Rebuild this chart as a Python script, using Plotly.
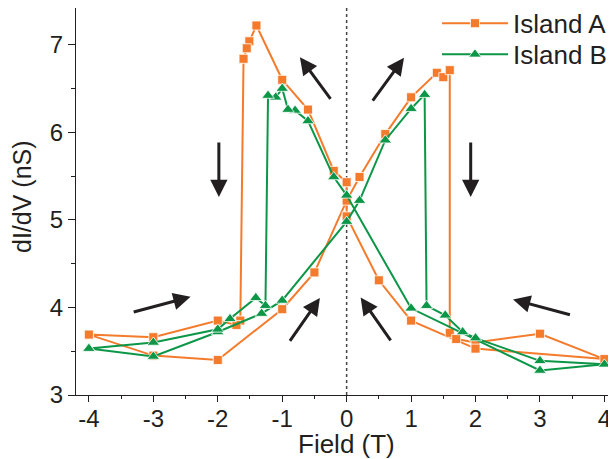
import plotly.graph_objects as go

# Island A (orange squares) - field sweep path
field_a = [-4, -3, -2, -1, -0.5, 0, 0.2, 0.6, 1.0, 1.4, 1.5, 1.6, 1.6, 1.7, 2.0, 3.0, 4.0,
           2.0, 1.0, 0.5, 0, 0, -0.2, -0.6, -1.0, -1.4, -1.51, -1.55, -1.6, -1.65, -1.71, -2, -3, -4]
didv_a = [3.69, 3.45, 3.40, 3.98, 4.40, 5.22, 5.49, 5.98, 6.40, 6.68, 6.63, 6.71, 3.71, 3.64, 3.60, 3.70, 3.41,
          3.53, 3.85, 4.31, 5.04, 5.43, 5.56, 6.26, 6.60, 7.22, 7.04, 6.96, 6.84, 3.85, 3.80, 3.85, 3.66, 3.69]

# Island B (green triangles)
field_b = [-4, -3, -2, -1.32, -1.0, 0, 0.2, 0.6, 1.0, 1.21, 1.24, 1.53, 1.80, 2.0, 3.0, 4.0,
           3.0, 1.0, 0, -0.2, -0.6, -0.8, -0.91, -1.0, -1.1, -1.22, -1.26, -1.41, -1.81, -2, -3, -4]
didv_b = [3.53, 3.44, 3.72, 3.93, 4.08, 4.98, 5.22, 5.91, 6.27, 6.43, 4.02, 3.91, 3.72, 3.65, 3.39, 3.35,
          3.28, 3.99, 5.28, 5.49, 6.13, 6.25, 6.26, 6.50, 6.40, 6.42, 4.02, 4.11, 3.87, 3.75, 3.60, 3.53]

x_ticks = [-4, -3, -2, -1, 0, 1, 2, 3, 4]
x_tick_text = ["-4", "-3", "-2", "-1", "0", "1", "2", "3", "4"]
y_ticks = [3, 4, 5, 6, 7]

# sweep-direction arrows: (tail_x, tail_y, head_x, head_y)
arrows = [
    (-0.233, 6.364, -0.725, 6.857),
    (-1.983, 5.900, -1.983, 5.261),
    (0.388, 6.344, 0.890, 6.851),
    (1.925, 5.900, 1.925, 5.261),
    (-3.328, 3.943, -2.422, 4.121),
    (-0.896, 3.601, -0.415, 4.109),
    (0.699, 3.608, 0.217, 4.114),
    (3.489, 3.912, 2.582, 4.091),
]

ORANGE = "#F47B2B"
GREEN = "#0C9647"
INK = "#231F20"
FONT = "Liberation Sans, Arial, sans-serif"

fig = go.Figure()
fig.add_trace(go.Scatter(
    x=field_a, y=didv_a, mode="lines+markers", name="Island A", legend="legend",
    line=dict(color=ORANGE, width=2),
    marker=dict(symbol="square", size=9, color=ORANGE, line=dict(color="white", width=0.8)),
))
fig.add_trace(go.Scatter(
    x=field_b, y=didv_b, mode="lines+markers", name="Island B", legend="legend2",
    line=dict(color=GREEN, width=2),
    marker=dict(symbol="triangle-up", size=11, color=GREEN, line=dict(color="white", width=0.8)),
))

fig.add_shape(type="line", xref="x", yref="y", x0=0, x1=0, y0=3, y1=7.42,
              line=dict(color="#444444", width=1.5, dash="dot"), layer="below")

for tx, ty, hx, hy in arrows:
    fig.add_annotation(x=hx, y=hy, ax=tx, ay=ty, xref="x", yref="y", axref="x", ayref="y",
                       text="", showarrow=True, arrowhead=2, arrowsize=1.15, arrowwidth=3,
                       arrowcolor=INK)

# axis titles
fig.add_annotation(text="Field (T)", xref="paper", yref="paper", x=0.5, y=-0.126,
                   xanchor="center", yanchor="middle", showarrow=False,
                   font=dict(size=26, family=FONT, color=INK))
fig.add_annotation(text="dI/dV (nS)", xref="paper", yref="paper", x=-0.099, y=0.513,
                   xanchor="center", yanchor="middle", showarrow=False, textangle=-90,
                   font=dict(size=25, family=FONT, color=INK))

legend_common = dict(xanchor="left", yanchor="middle", bgcolor="rgba(0,0,0,0)",
                     font=dict(size=26, family=FONT, color=INK), itemwidth=66)

fig.update_layout(
    width=608, height=451,
    margin=dict(l=68, r=0, t=0, b=64, autoexpand=False),
    paper_bgcolor="white", plot_bgcolor="white",
    font=dict(family=FONT, color=INK, size=24),
    showlegend=True,
    legend=dict(x=0.6685, y=0.9605, **legend_common),
    legend2=dict(x=0.6685, y=0.880, **legend_common),
    xaxis=dict(range=[-4.2, 4.18], tickvals=x_ticks, ticktext=x_tick_text, automargin=False,
               showgrid=False, zeroline=False, showline=True, linecolor=INK, linewidth=1.3,
               mirror=True, ticks="outside", ticklen=6, tickwidth=1.2, tickcolor=INK,
               minor=dict(dtick=0.5, tick0=0, ticks="outside", ticklen=3, tickwidth=1.2, tickcolor=INK),
               ticklabelstandoff=-4,
               tickfont=dict(size=24)),
    yaxis=dict(range=[3, 7.42], tickvals=y_ticks, automargin=False,
               showgrid=False, zeroline=False, showline=True, linecolor=INK, linewidth=1.3,
               ticks="outside", ticklen=7, tickwidth=1.2, tickcolor=INK,
               minor=dict(dtick=0.5, tick0=0, ticks="outside", ticklen=4, tickwidth=1.2, tickcolor=INK),
               tickfont=dict(size=24)),
)

fig.write_html("out.html")
